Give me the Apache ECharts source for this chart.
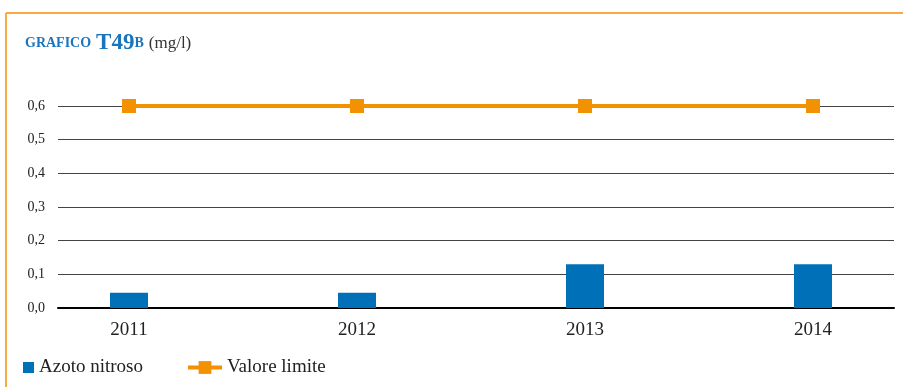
<!DOCTYPE html>
<html><head><meta charset="utf-8">
<script src="https://cdn.jsdelivr.net/npm/echarts@6/dist/echarts.min.js"></script>
<style>html,body{margin:0;padding:0;background:#fff}#c{width:903px;height:387px}</style>
</head><body><div id="c"></div>
<script>
var categories = ['2011', '2012', '2013', '2014'];
var azotoNitroso = [0.045, 0.045, 0.13, 0.13];
var valoreLimite = [0.6, 0.6, 0.6, 0.6];
var yMin = 0, yMax = 0.6, yInterval = 0.1;

var chart = echarts.init(document.getElementById('c'));
var serif = '"Liberation Serif", "DejaVu Serif", serif';
var fmt = function (v) { return v.toFixed(1).replace('.', ','); };
chart.setOption({
  animation: false,
  title: {
    left: 20, top: 27,
    text: '{a|GRAFICO} {b|T49}{c|B} {d|(mg/l)}',
    textStyle: {
      fontWeight: 'normal',
      rich: {
        a: { fontFamily: serif, fontWeight: 'bold', fontSize: 14, color: '#1b75bc' },
        b: { fontFamily: serif, fontWeight: 'bold', fontSize: 23, color: '#1b75bc' },
        c: { fontFamily: serif, fontWeight: 'bold', fontSize: 14, color: '#1b75bc' },
        d: { fontFamily: serif, fontWeight: 'normal', fontSize: 17, color: '#333' }
      }
    }
  },
  graphic: [
    { type: 'line', shape: { x1: 6, y1: 13, x2: 903, y2: 13 }, style: { stroke: '#f4aa45', lineWidth: 2 } },
    { type: 'line', shape: { x1: 6, y1: 13, x2: 6, y2: 387 }, style: { stroke: '#f4aa45', lineWidth: 2 } }
  ],
  legend: [
    { left: 23, top: 358, padding: 0, itemWidth: 11, itemHeight: 11, itemGap: 8,
      data: [{ name: 'Azoto nitroso', icon: 'rect' }],
      textStyle: { fontFamily: serif, fontSize: 19, color: '#222' } },
    { left: 186, top: 358, padding: 0, itemWidth: 34, itemHeight: 16, itemGap: 8,
      data: ['Valore limite'],
      lineStyle: { width: 4 },
      textStyle: { fontFamily: serif, fontSize: 19, color: '#222' } }
  ],
  grid: [
    { left: 58, right: 9, top: 106, bottom: 79 },
    { left: 129, right: 90, top: 106, bottom: 79 }
  ],
  xAxis: [
    { gridIndex: 0, type: 'category', data: categories,
      axisLine: { lineStyle: { color: '#000', width: 2 } },
      axisTick: { show: false }, axisLabel: { show: false } },
    { gridIndex: 1, type: 'category', data: categories, boundaryGap: false,
      axisLine: { show: false }, axisTick: { show: false },
      axisLabel: { margin: 13, fontFamily: serif, fontSize: 19, color: '#222' } }
  ],
  yAxis: [
    { gridIndex: 0, type: 'value', min: yMin, max: yMax, interval: yInterval,
      axisLine: { show: false }, axisTick: { show: false },
      splitLine: { lineStyle: { color: '#444', width: 1 } },
      axisLabel: { margin: 13, formatter: fmt, fontFamily: serif, fontSize: 14, color: '#222' } },
    { gridIndex: 1, type: 'value', min: yMin, max: yMax, interval: yInterval, show: false,
      splitLine: { show: false } }
  ],
  series: [
    { name: 'Azoto nitroso', type: 'bar', xAxisIndex: 1, yAxisIndex: 1,
      data: azotoNitroso, barWidth: 38, itemStyle: { color: '#0070b8' } },
    { name: 'Valore limite', type: 'line', xAxisIndex: 1, yAxisIndex: 1,
      data: valoreLimite, symbol: 'rect', symbolSize: 14,
      lineStyle: { color: '#f39200', width: 4 }, itemStyle: { color: '#f39200' } }
  ]
});
</script></body></html>
